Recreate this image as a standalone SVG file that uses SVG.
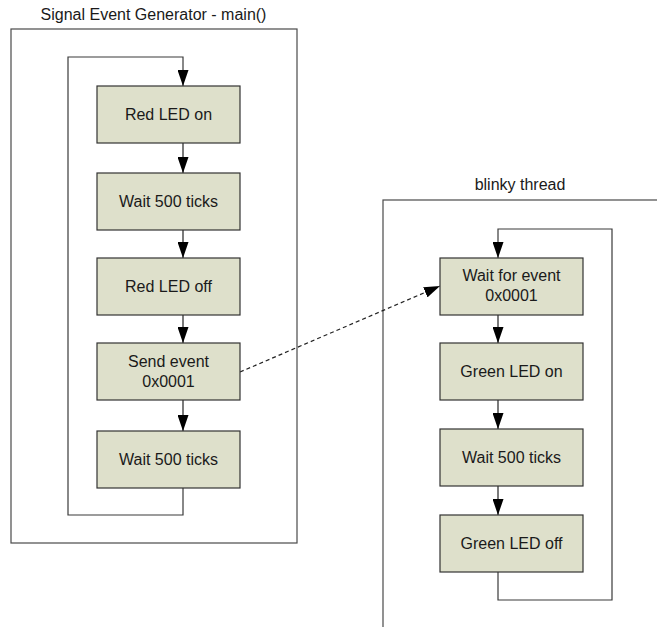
<svg xmlns="http://www.w3.org/2000/svg" width="657" height="627" viewBox="0 0 657 627">
<style>
  .frame { fill: none; stroke: #4a4a4a; stroke-width: 1.2; }
  .box { fill: #dee0cb; stroke: #333333; stroke-width: 1.2; }
  .lbl { font-family: "Liberation Sans", Arial, sans-serif; font-size: 16px; fill: #1a1a1a; text-anchor: middle; }
  .title { font-family: "Liberation Sans", Arial, sans-serif; font-size: 16px; fill: #1a1a1a; text-anchor: middle; }
  .conn { fill: none; stroke: #222222; stroke-width: 1.2; }
  .loop { fill: none; stroke: #3a3a3a; stroke-width: 1.2; }
  .dash { fill: none; stroke: #222222; stroke-width: 1.2; stroke-dasharray: 4 3; }
</style>
<defs>
  <marker id="arrow" markerUnits="userSpaceOnUse" markerWidth="16" markerHeight="11" refX="16" refY="5.5" orient="auto">
    <path d="M0,0 L16,5.5 L0,11 z" fill="#000000"/>
  </marker>
</defs>
<rect width="657" height="627" fill="#ffffff"/>

<g id="frame-main">
  <rect class="frame" x="11" y="29" width="286" height="514"/>
  <text class="title" x="153.5" y="20">Signal Event Generator - main()</text>
</g>
<g id="frame-blinky">
  <rect class="frame" x="383" y="200" width="400" height="500"/>
  <text class="title" x="520" y="190">blinky thread</text>
</g>

<g id="connectors">
  <line class="conn" x1="183" y1="143" x2="183" y2="173" marker-end="url(#arrow)"/>
  <line class="conn" x1="183" y1="230" x2="183" y2="258" marker-end="url(#arrow)"/>
  <line class="conn" x1="183" y1="315" x2="183" y2="343" marker-end="url(#arrow)"/>
  <line class="conn" x1="183" y1="400" x2="183" y2="431" marker-end="url(#arrow)"/>
  <path class="loop" d="M183,488 V515 H68 V57 H183 V86" marker-end="url(#arrow)"/>
  <line class="conn" x1="498" y1="315" x2="498" y2="343" marker-end="url(#arrow)"/>
  <line class="conn" x1="498" y1="400" x2="498" y2="429" marker-end="url(#arrow)"/>
  <line class="conn" x1="498" y1="486" x2="498" y2="515" marker-end="url(#arrow)"/>
  <path class="loop" d="M498,572 V600 H612 V229 H498 V258" marker-end="url(#arrow)"/>
  <line class="dash" x1="240" y1="372" x2="440" y2="286" marker-end="url(#arrow)"/>
</g>

<g id="red-led-on">
  <rect class="box" x="97" y="86" width="143" height="57"/>
  <text class="lbl" x="168.5" y="119.5">Red LED on</text>
</g>
<g id="wait-500-a">
  <rect class="box" x="97" y="173" width="143" height="57"/>
  <text class="lbl" x="168.5" y="206.5">Wait 500 ticks</text>
</g>
<g id="red-led-off">
  <rect class="box" x="97" y="258" width="143" height="57"/>
  <text class="lbl" x="168.5" y="291.5">Red LED off</text>
</g>
<g id="send-event">
  <rect class="box" x="97" y="343" width="143" height="57"/>
  <text class="lbl" x="168.5" y="366.5">Send event</text>
  <text class="lbl" x="168.5" y="386.5">0x0001</text>
</g>
<g id="wait-500-b">
  <rect class="box" x="97" y="431" width="143" height="57"/>
  <text class="lbl" x="168.5" y="464.5">Wait 500 ticks</text>
</g>

<g id="wait-for-event">
  <rect class="box" x="440" y="258" width="143" height="57"/>
  <text class="lbl" x="511.5" y="280.5">Wait for event</text>
  <text class="lbl" x="511.5" y="300.5">0x0001</text>
</g>
<g id="green-led-on">
  <rect class="box" x="440" y="343" width="143" height="57"/>
  <text class="lbl" x="511.5" y="376.5">Green LED on</text>
</g>
<g id="wait-500-c">
  <rect class="box" x="440" y="429" width="143" height="57"/>
  <text class="lbl" x="511.5" y="462.5">Wait 500 ticks</text>
</g>
<g id="green-led-off">
  <rect class="box" x="440" y="515" width="143" height="57"/>
  <text class="lbl" x="511.5" y="548.5">Green LED off</text>
</g>
</svg>
